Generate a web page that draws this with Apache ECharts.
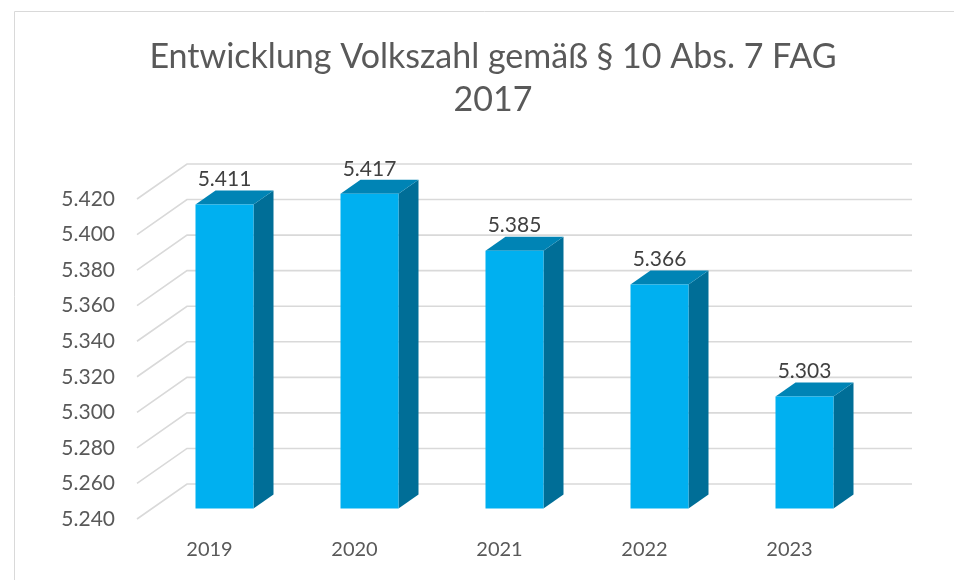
<!DOCTYPE html>
<html>
<head>
<meta charset="utf-8">
<script src="https://cdn.jsdelivr.net/npm/echarts@6/dist/echarts.min.js"></script>
<style>
  html, body { margin: 0; padding: 0; background: #fff; }
  #main { width: 954px; height: 580px; }
</style>
</head>
<body>
<div id="main"></div>
<script>
// Daten
var jahre = ['2019', '2020', '2021', '2022', '2023'];
var volkszahl = [5.411, 5.417, 5.385, 5.366, 5.303];
var yTicks = [5.24, 5.26, 5.28, 5.30, 5.32, 5.34, 5.36, 5.38, 5.40, 5.42];

var tiefe = [50, -35]; // Perspektive nach hinten
var farbeVorne = '#00B0F0';
var farbeOben = '#0084B5';
var farbeSeite = '#006E97';

var myChart = echarts.init(document.getElementById('main'));

var option = {
    animation: false,
    title: {
        text: 'Entwicklung Volkszahl gemäß § 10 Abs. 7 FAG\n2017',
        left: 488,
        top: 31,
        textAlign: 'center',
        textStyle: {
            fontFamily: 'Lato',
            fontWeight: 'normal',
            fontSize: 34,
            lineHeight: 43,
            color: '#595959'
        }
    },
    graphic: [{
        type: 'rect',
        shape: { x: 14.5, y: 11.5, width: 1000, height: 1000 },
        style: { fill: 'none', stroke: '#d9d9d9', lineWidth: 1 },
        z: -10
    }],
    grid: { left: 137, right: 92, top: 199, bottom: 61 },
    xAxis: {
        type: 'category',
        data: jahre,
        axisLine: { show: false },
        axisTick: { show: false },
        axisLabel: {
            margin: 21,
            fontFamily: 'Lato',
            fontSize: 20,
            color: '#595959'
        }
    },
    yAxis: {
        type: 'value',
        min: 5.24,
        max: 5.42,
        interval: 0.02,
        splitLine: { show: false },
        axisLine: { show: false },
        axisTick: { show: false },
        axisLabel: {
            margin: 22,
            fontFamily: 'Lato',
            fontSize: 21,
            color: '#595959',
            formatter: function (v) { return v.toFixed(3); }
        }
    },
    series: [
        {
            // Gitterlinien in 3D-Optik
            type: 'custom',
            z: 1,
            silent: true,
            data: yTicks.map(function (t) { return [0, t]; }),
            encode: { x: 0, y: 1 },
            renderItem: function (params, api) {
                var v = api.value(1);
                var band = api.size([1, 0])[0];
                var p0 = api.coord([0, v]);
                var p4 = api.coord([jahre.length - 1, v]);
                var x0 = p0[0] - band / 2;
                var x1 = p4[0] + band / 2;
                var y = p0[1];
                return {
                    type: 'polyline',
                    shape: { points: [[x0, y], [x0 + tiefe[0], y + tiefe[1]], [x1 + tiefe[0], y + tiefe[1]]] },
                    style: { stroke: '#d9d9d9', lineWidth: 1.6, fill: null }
                };
            }
        },
        {
            // 3D-Säulen
            type: 'custom',
            z: 2,
            data: volkszahl.map(function (v, i) { return [i, v]; }),
            encode: { x: 0, y: 1 },
            renderItem: function (params, api) {
                var band = api.size([1, 0])[0];
                var w = band * 0.4;
                var top = api.coord([api.value(0), api.value(1)]);
                var base = api.coord([api.value(0), 5.24]);
                var fx = 0.3 * tiefe[0], fy = 0.3 * tiefe[1];
                var dx = 0.4 * tiefe[0], dy = 0.4 * tiefe[1];
                var xl = top[0] - w / 2 + fx;
                var xr = top[0] + w / 2 + fx;
                var yt = top[1] + fy;
                var yb = base[1] + fy;
                return {
                    type: 'group',
                    children: [
                        {
                            type: 'polygon',
                            shape: { points: [[xr, yt], [xr + dx, yt + dy], [xr + dx, yb + dy], [xr, yb]] },
                            style: { fill: farbeSeite }
                        },
                        {
                            type: 'polygon',
                            shape: { points: [[xl, yt], [xl + dx, yt + dy], [xr + dx, yt + dy], [xr, yt]] },
                            style: { fill: farbeOben }
                        },
                        {
                            type: 'rect',
                            shape: { x: xl, y: yt, width: w, height: yb - yt },
                            style: { fill: farbeVorne }
                        },
                        {
                            type: 'text',
                            x: (xl + xr) / 2,
                            y: yt - 25,
                            style: {
                                text: api.value(1).toFixed(3),
                                align: 'center',
                                verticalAlign: 'middle',
                                fontFamily: 'Lato',
                                fontSize: 21,
                                fill: '#404040'
                            }
                        }
                    ]
                };
            }
        }
    ]
};

myChart.setOption(option);
window.addEventListener('resize', function () {
    myChart.resize();
});
</script>
</body>
</html>
